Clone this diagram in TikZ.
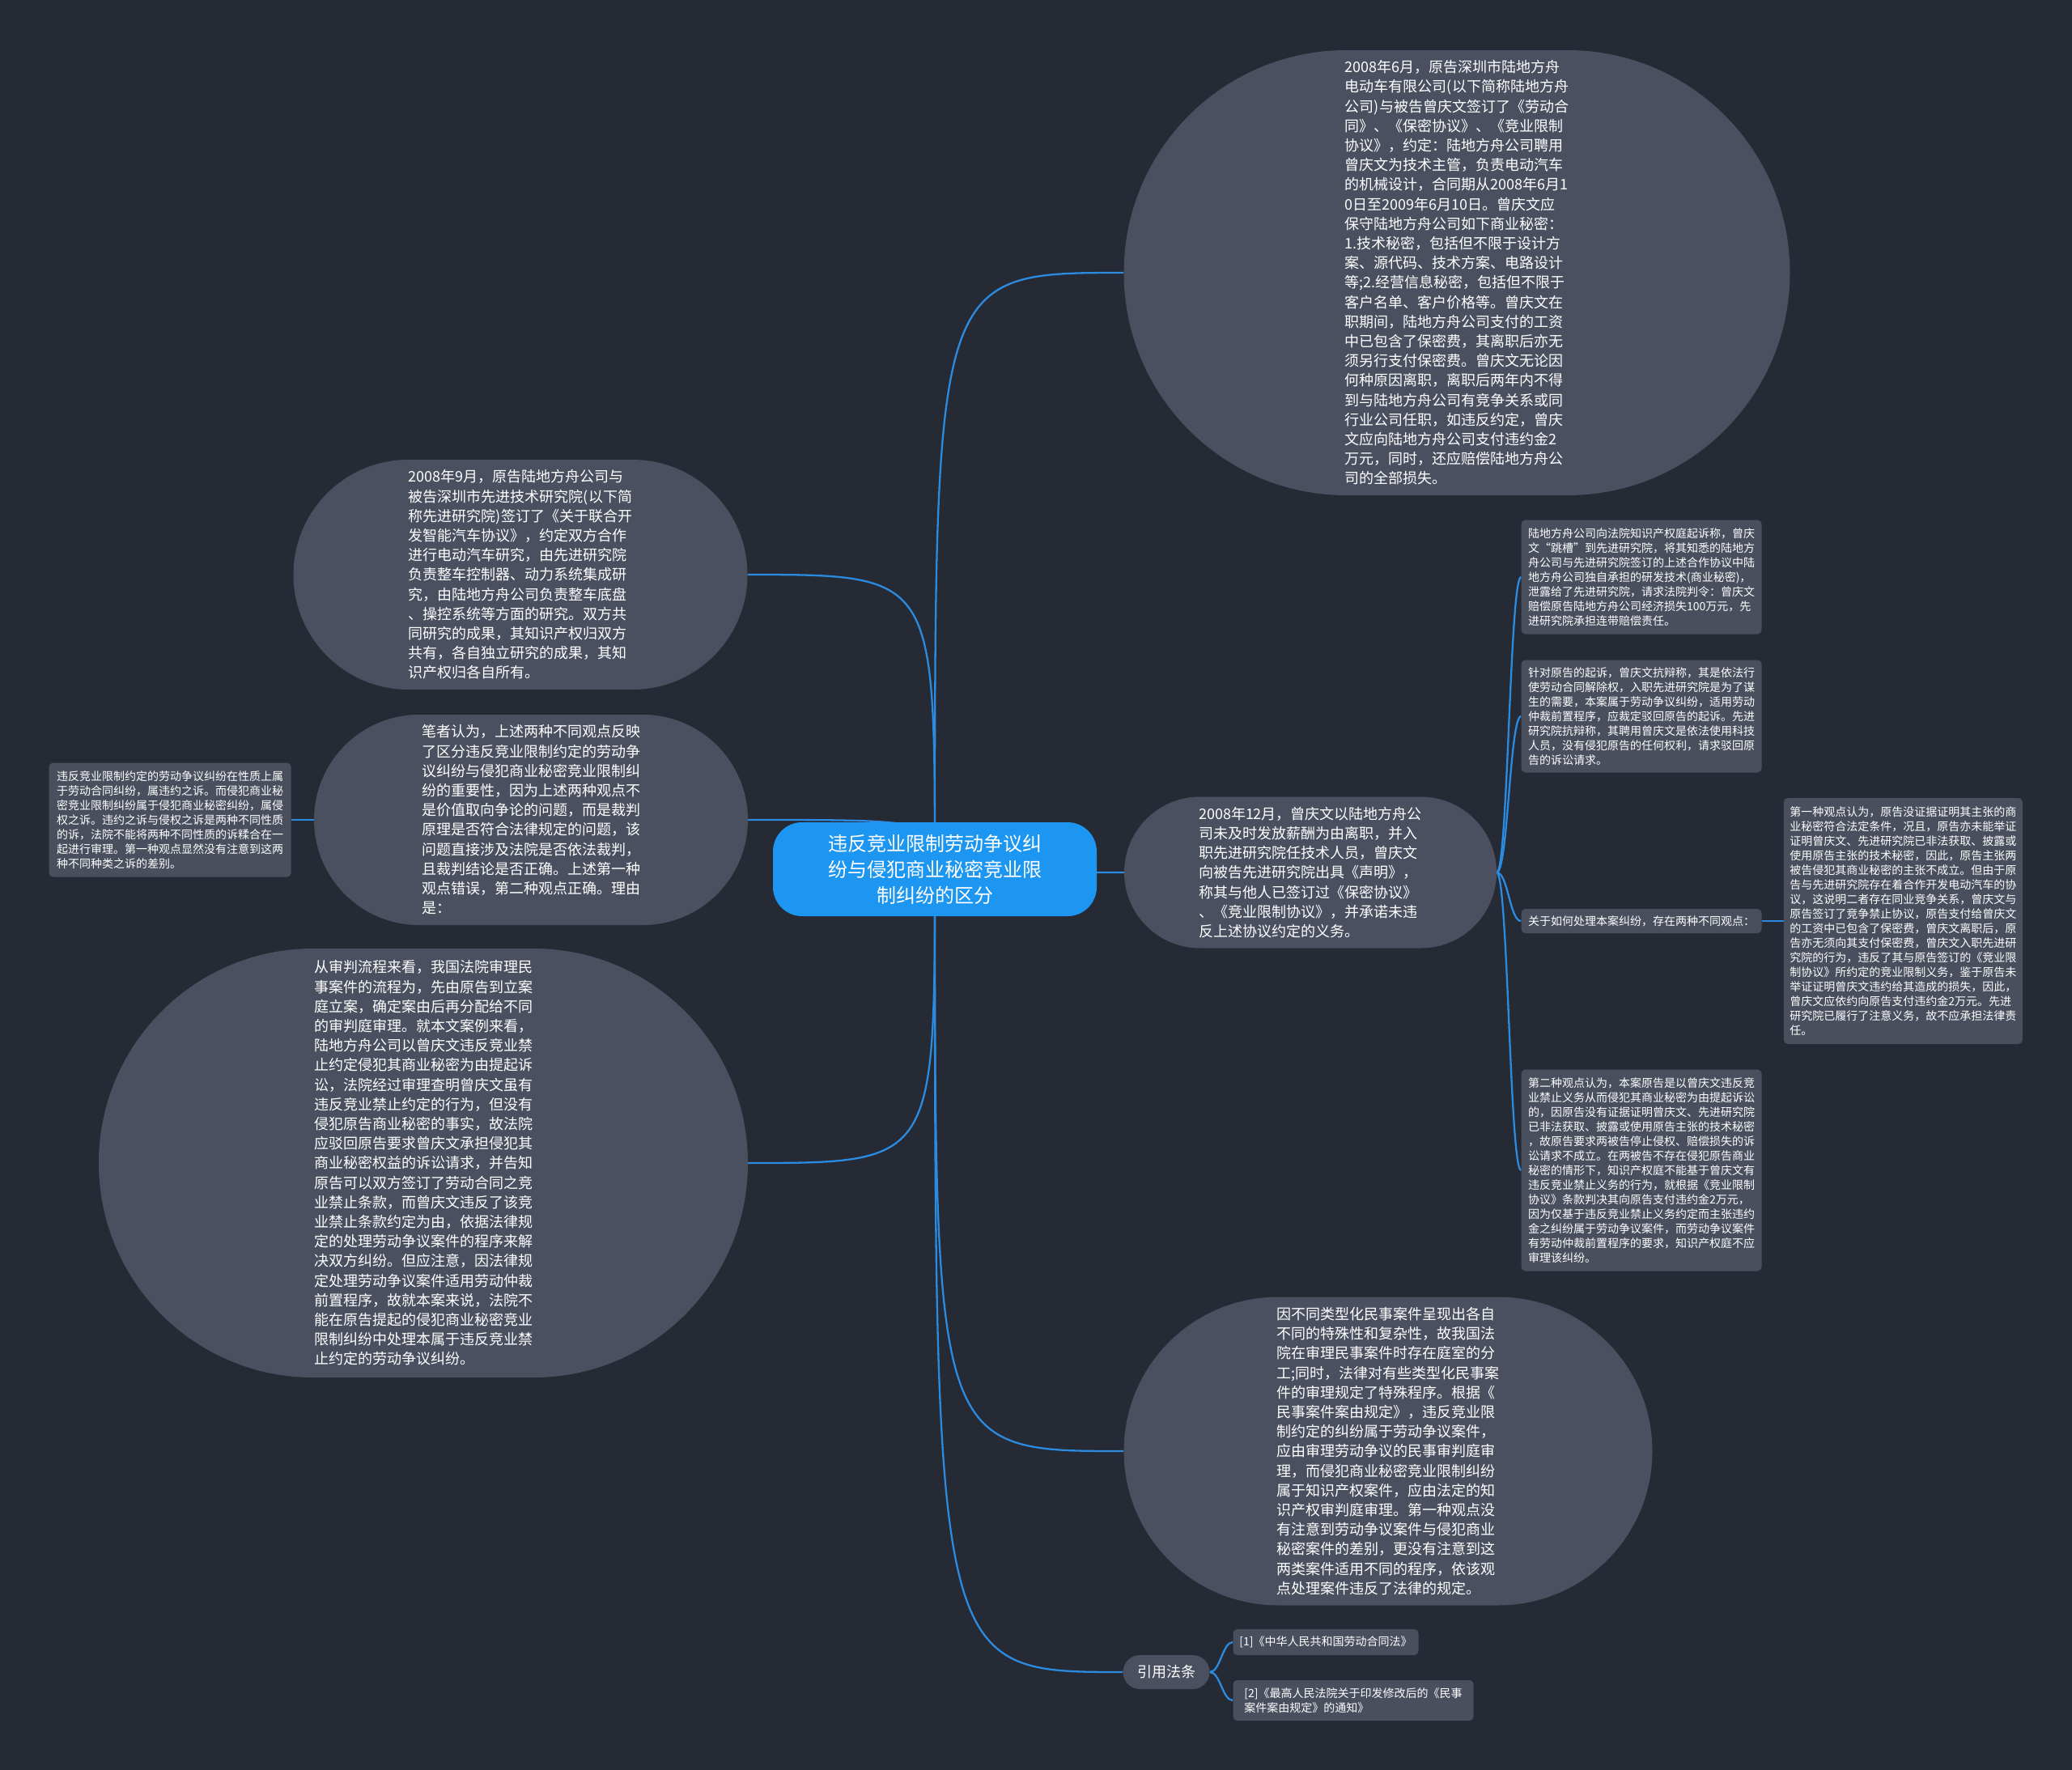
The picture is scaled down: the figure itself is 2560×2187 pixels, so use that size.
\documentclass[tikz,border=0pt]{standalone}
\usepackage{fontspec}
\setmainfont{Noto Sans CJK SC}
\usetikzlibrary{shapes.misc,positioning,backgrounds}

\definecolor{bgnavy}{HTML}{262A35}
\definecolor{bubblegray}{HTML}{4B5060}
\definecolor{notegray}{HTML}{4A4F5E}
\definecolor{topicblue}{HTML}{1C96F0}
\definecolor{linkblue}{HTML}{2A8BE0}

\begin{document}
\begin{tikzpicture}[
x=1pt, y=-1pt,
bubble/.style={rounded rectangle, fill=bubblegray, text=white, align=left, inner sep=4pt, font=\fontsize{18}{24.2}\selectfont},
notebox/.style={rectangle, fill=notegray, rounded corners=5pt, text=white, align=left, inner xsep=7pt, inner ysep=6pt, font=\fontsize{14}{18}\selectfont},
topic/.style={rectangle, fill=topicblue, rounded corners=36pt, text=white, align=center, minimum width=400pt, minimum height=116pt, font=\fontsize{24}{32}\selectfont},
link/.style={draw=linkblue, line width=2.3pt}
]
\useasboundingbox (0,0) rectangle (2560,2187);

% centre
\node[topic] (ctr) at (1155,1074) {违反竞业限制劳动争议纠\\纷与侵犯商业秘密竞业限\\制纠纷的区分};

% right side
\node[bubble, minimum width=831pt, minimum height=550pt] (contract) at (1800,337) {2008年6月，原告深圳市陆地方舟\\电动车有限公司(以下简称陆地方舟\\公司)与被告曾庆文签订了《劳动合\\同》、《保密协议》、《竞业限制\\协议》，约定：陆地方舟公司聘用\\曾庆文为技术主管，负责电动汽车\\的机械设计，合同期从2008年6月1\\0日至2009年6月10日。曾庆文应\\保守陆地方舟公司如下商业秘密：\\1.技术秘密，包括但不限于设计方\\案、源代码、技术方案、电路设计\\等;2.经营信息秘密，包括但不限于\\客户名单、客户价格等。曾庆文在\\职期间，陆地方舟公司支付的工资\\中已包含了保密费，其离职后亦无\\须另行支付保密费。曾庆文无论因\\何种原因离职，离职后两年内不得\\到与陆地方舟公司有竞争关系或同\\行业公司任职，如违反约定，曾庆\\文应向陆地方舟公司支付违约金2\\万元，同时，还应赔偿陆地方舟公\\司的全部损失。};
\node[bubble, minimum width=468pt, minimum height=187pt] (quit) at (1619,1078) {2008年12月，曾庆文以陆地方舟公\\司未及时发放薪酬为由离职，并入\\职先进研究院任技术人员，曾庆文\\向被告先进研究院出具《声明》，\\称其与他人已签订过《保密协议》\\、《竞业限制协议》，并承诺未违\\反上述协议约定的义务。};
\node[notebox, minimum width=297pt, minimum height=141pt] (suit) at (2028,713) {陆地方舟公司向法院知识产权庭起诉称，曾庆\\文“跳槽”到先进研究院，将其知悉的陆地方\\舟公司与先进研究院签订的上述合作协议中陆\\地方舟公司独自承担的研发技术(商业秘密)，\\泄露给了先进研究院，请求法院判令：曾庆文\\赔偿原告陆地方舟公司经济损失100万元，先\\进研究院承担连带赔偿责任。};
\node[notebox, minimum width=297pt, minimum height=139pt] (defence) at (2028,885) {针对原告的起诉，曾庆文抗辩称，其是依法行\\使劳动合同解除权，入职先进研究院是为了谋\\生的需要，本案属于劳动争议纠纷，适用劳动\\仲裁前置程序，应裁定驳回原告的起诉。先进\\研究院抗辩称，其聘用曾庆文是依法使用科技\\人员，没有侵犯原告的任何权利，请求驳回原\\告的诉讼请求。};
\node[notebox, minimum width=297pt, minimum height=30pt, inner ysep=3pt] (views) at (2028,1138) {关于如何处理本案纠纷，存在两种不同观点：};
\node[notebox, minimum width=295pt, minimum height=304pt, right=27pt of views] (firstview) {第一种观点认为，原告没证据证明其主张的商\\业秘密符合法定条件，况且，原告亦未能举证\\证明曾庆文、先进研究院已非法获取、披露或\\使用原告主张的技术秘密，因此，原告主张两\\被告侵犯其商业秘密的主张不成立。但由于原\\告与先进研究院存在着合作开发电动汽车的协\\议，这说明二者存在同业竞争关系，曾庆文与\\原告签订了竞争禁止协议，原告支付给曾庆文\\的工资中已包含了保密费，曾庆文离职后，原\\告亦无须向其支付保密费，曾庆文入职先进研\\究院的行为，违反了其与原告签订的《竞业限\\制协议》所约定的竞业限制义务，鉴于原告未\\举证证明曾庆文违约给其造成的损失，因此，\\曾庆文应依约向原告支付违约金2万元。先进\\研究院已履行了注意义务，故不应承担法律责\\任。};
\node[notebox, minimum width=297pt, minimum height=249pt] (secondview) at (2028,1446) {第二种观点认为，本案原告是以曾庆文违反竞\\业禁止义务从而侵犯其商业秘密为由提起诉讼\\的，因原告没有证据证明曾庆文、先进研究院\\已非法获取、披露或使用原告主张的技术秘密\\，故原告要求两被告停止侵权、赔偿损失的诉\\讼请求不成立。在两被告不存在侵犯原告商业\\秘密的情形下，知识产权庭不能基于曾庆文有\\违反竞业禁止义务的行为，就根据《竞业限制\\协议》条款判决其向原告支付违约金2万元，\\因为仅基于违反竞业禁止义务约定而主张违约\\金之纠纷属于劳动争议案件，而劳动争议案件\\有劳动仲裁前置程序的要求，知识产权庭不应\\审理该纠纷。};
\node[bubble, minimum width=661pt, minimum height=381pt] (court) at (1715,1793) {因不同类型化民事案件呈现出各自\\不同的特殊性和复杂性，故我国法\\院在审理民事案件时存在庭室的分\\工;同时，法律对有些类型化民事案\\件的审理规定了特殊程序。根据《\\民事案件案由规定》，违反竞业限\\制约定的纠纷属于劳动争议案件，\\应由审理劳动争议的民事审判庭审\\理，而侵犯商业秘密竞业限制纠纷\\属于知识产权案件，应由法定的知\\识产权审判庭审理。第一种观点没\\有注意到劳动争议案件与侵犯商业\\秘密案件的差别，更没有注意到这\\两类案件适用不同的程序，依该观\\点处理案件违反了法律的规定。};
\node[bubble, minimum width=115pt, minimum height=42pt, align=center] (law) at (1441,2066) {引用法条};
\node[notebox, minimum width=229pt, minimum height=32pt, inner ysep=3pt] (lawone) at (1638,2029) {[1]《中华人民共和国劳动合同法》};
\node[notebox, minimum width=297pt, minimum height=50pt, inner ysep=3pt] (lawtwo) at (1672,2101) {[2]《最高人民法院关于印发修改后的《民事\\案件案由规定》的通知》};

% left side
\node[bubble, minimum width=569pt, minimum height=284pt] (coop) at (643,710) {2008年9月，原告陆地方舟公司与\\被告深圳市先进技术研究院(以下简\\称先进研究院)签订了《关于联合开\\发智能汽车协议》，约定双方合作\\进行电动汽车研究，由先进研究院\\负责整车控制器、动力系统集成研\\究，由陆地方舟公司负责整车底盘\\、操控系统等方面的研究。双方共\\同研究的成果，其知识产权归双方\\共有，各自独立研究的成果，其知\\识产权归各自所有。};
\node[bubble, minimum width=544pt, minimum height=260pt] (opinion) at (656,1013) {笔者认为，上述两种不同观点反映\\了区分违反竞业限制约定的劳动争\\议纠纷与侵犯商业秘密竞业限制纠\\纷的重要性，因为上述两种观点不\\是价值取向争论的问题，而是裁判\\原理是否符合法律规定的问题，该\\问题直接涉及法院是否依法裁判，\\且裁判结论是否正确。上述第一种\\观点错误，第二种观点正确。理由\\是：};
\node[notebox, minimum width=299pt, minimum height=141pt, left=28pt of opinion] (nature) {违反竞业限制约定的劳动争议纠纷在性质上属\\于劳动合同纠纷，属违约之诉。而侵犯商业秘\\密竞业限制纠纷属于侵犯商业秘密纠纷，属侵\\权之诉。违约之诉与侵权之诉是两种不同性质\\的诉，法院不能将两种不同性质的诉糅合在一\\起进行审理。第一种观点显然没有注意到这两\\种不同种类之诉的差别。};
\node[bubble, minimum width=810pt, minimum height=530pt] (trial) at (523,1437) {从审判流程来看，我国法院审理民\\事案件的流程为，先由原告到立案\\庭立案，确定案由后再分配给不同\\的审判庭审理。就本文案例来看，\\陆地方舟公司以曾庆文违反竞业禁\\止约定侵犯其商业秘密为由提起诉\\讼，法院经过审理查明曾庆文虽有\\违反竞业禁止约定的行为，但没有\\侵犯原告商业秘密的事实，故法院\\应驳回原告要求曾庆文承担侵犯其\\商业秘密权益的诉讼请求，并告知\\原告可以双方签订了劳动合同之竞\\业禁止条款，而曾庆文违反了该竞\\业禁止条款约定为由，依据法律规\\定的处理劳动争议案件的程序来解\\决双方纠纷。但应注意，因法律规\\定处理劳动争议案件适用劳动仲裁\\前置程序，故就本案来说，法院不\\能在原告提起的侵犯商业秘密竞业\\限制纠纷中处理本属于违反竞业禁\\止约定的劳动争议纠纷。};

\begin{scope}[on background layer]
\fill[bgnavy] (0,0) rectangle (2560,2187);
% branches from the centre
\draw[link] (ctr.center) .. controls (ctr.center |- contract.west) .. (contract.west);
\draw[link] (ctr.center) .. controls (ctr.center |- coop.east) .. (coop.east);
\draw[link] (ctr.center) .. controls (ctr.center |- opinion.east) .. (opinion.east);
\draw[link] (ctr.center) .. controls (ctr.center |- trial.east) .. (trial.east);
\draw[link] (ctr.center) .. controls (ctr.center |- quit.west) .. (quit.west);
\draw[link] (ctr.center) .. controls (ctr.center |- court.west) .. (court.west);
\draw[link] (ctr.center) .. controls (ctr.center |- law.west) .. (law.west);
% sub branches
\draw[link] (quit.east) .. controls +(14,0) and +(-14,0) .. (suit.west);
\draw[link] (quit.east) .. controls +(14,0) and +(-14,0) .. (defence.west);
\draw[link] (quit.east) .. controls +(14,0) and +(-14,0) .. (views.west);
\draw[link] (quit.east) .. controls +(14,0) and +(-14,0) .. (secondview.west);
\draw[link] (views.east) -- (firstview.west);
\draw[link] (nature.east) -- (opinion.west);
\draw[link] (law.east) .. controls +(13,0) and +(-13,0) .. (lawone.west);
\draw[link] (law.east) .. controls +(13,0) and +(-13,0) .. (lawtwo.west);
\end{scope}
\end{tikzpicture}
\end{document}
